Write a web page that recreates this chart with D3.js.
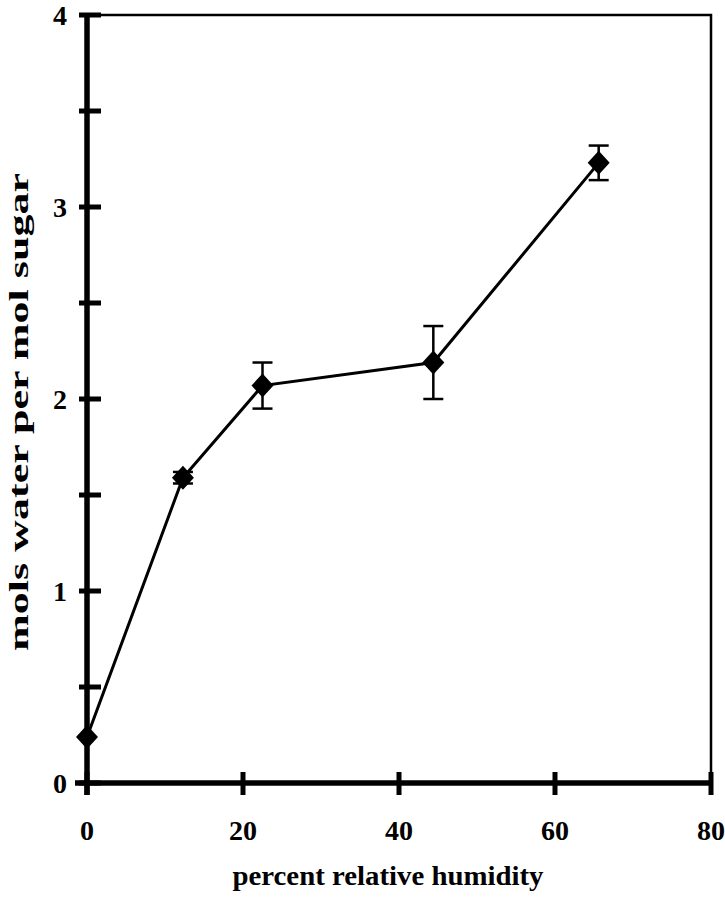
<!DOCTYPE html>
<meta charset="utf-8">
<style>
body { margin: 0; background: #fff; }
text { font-family: "Liberation Serif", "Times New Roman", Times, serif; font-weight: 700; fill: #000; }
.frame { fill: none; stroke: #000; stroke-width: 2.5px; }
.axis { stroke: #000; stroke-width: 5.5px; }
.tick { stroke: #000; stroke-width: 5px; }
.line { fill: none; stroke: #000; stroke-width: 3px; }
.err { stroke: #000; stroke-width: 2.5px; }
</style>
<svg width="725" height="900"></svg>
<script src="https://cdn.jsdelivr.net/npm/d3@7"></script>
<script>

// percent relative humidity vs mols water per mol sugar
var humidity = [0, 12.3, 22.5, 44.4, 65.6];
var water    = [0.24, 1.59, 2.07, 2.19, 3.23];
var errors   = [0, 0.03, 0.12, 0.19, 0.09];

var xTicks = [0, 20, 40, 60, 80];
var yTicks = [0, 1, 2, 3, 4];
var yMinor = [0.5, 1.5, 2.5, 3.5];

var svg = d3.select("svg");

var x = d3.scaleLinear().domain([0, 80]).range([87, 711]);
var y = d3.scaleLinear().domain([0, 4]).range([783, 15]);

// thin frame top / right
svg.append("path")
    .attr("class", "frame")
    .attr("d", "M" + x(0) + "," + y(4) + "H" + x(80) + "V" + y(0));

// thick axes
svg.append("line").attr("class", "axis")
    .attr("x1", x(0)).attr("x2", x(0)).attr("y1", y(4)).attr("y2", y(0) + 12);
svg.append("line").attr("class", "axis")
    .attr("x1", x(0) - 12).attr("x2", x(80)).attr("y1", y(0)).attr("y2", y(0));

// ticks crossing the axes
svg.selectAll(".ytick")
    .data(yTicks.concat(yMinor))
  .enter().append("line")
    .attr("class", "tick")
    .attr("x1", x(0) - 8).attr("x2", x(0) + 14)
    .attr("y1", d => y(d)).attr("y2", d => y(d));

svg.selectAll(".xtick")
    .data(xTicks)
  .enter().append("line")
    .attr("class", "tick")
    .attr("x1", d => x(d)).attr("x2", d => x(d))
    .attr("y1", y(0) - 11).attr("y2", y(0) + 12);

svg.selectAll(".ylab")
    .data(yTicks)
  .enter().append("text")
    .attr("x", 67)
    .attr("y", d => y(d))
    .attr("dy", "0.35em")
    .attr("text-anchor", "end")
    .style("font-size", "28px")
    .text(d => d);

svg.selectAll(".xlab")
    .data(xTicks)
  .enter().append("text")
    .attr("x", d => x(d))
    .attr("y", 840)
    .attr("text-anchor", "middle")
    .style("font-size", "28px")
    .text(d => d);

svg.append("text")
    .attr("x", 388)
    .attr("y", 885)
    .attr("text-anchor", "middle")
    .attr("textLength", 311)
    .attr("lengthAdjust", "spacingAndGlyphs")
    .style("font-size", "27px")
    .text("percent relative humidity");

svg.append("text")
    .attr("transform", "translate(28,412) rotate(-90)")
    .attr("text-anchor", "middle")
    .attr("textLength", 478)
    .attr("lengthAdjust", "spacingAndGlyphs")
    .style("font-size", "27px")
    .text("mols water per mol sugar");

var pts = humidity.map((h, i) => ({ x: h, y: water[i], e: errors[i] }));

svg.append("path")
    .datum(pts)
    .attr("class", "line")
    .attr("d", d3.line().x(d => x(d.x)).y(d => y(d.y)));

var eb = svg.selectAll(".eb")
    .data(pts.filter(d => d.e > 0))
  .enter().append("g");

eb.append("line").attr("class", "err")
    .attr("x1", d => x(d.x)).attr("x2", d => x(d.x))
    .attr("y1", d => y(d.y + d.e)).attr("y2", d => y(d.y - d.e));
eb.append("line").attr("class", "err")
    .attr("x1", d => x(d.x) - 10).attr("x2", d => x(d.x) + 10)
    .attr("y1", d => y(d.y + d.e)).attr("y2", d => y(d.y + d.e));
eb.append("line").attr("class", "err")
    .attr("x1", d => x(d.x) - 10).attr("x2", d => x(d.x) + 10)
    .attr("y1", d => y(d.y - d.e)).attr("y2", d => y(d.y - d.e));

svg.selectAll(".pt")
    .data(pts)
  .enter().append("path")
    .attr("d", "M0,-12L11,0L0,12L-11,0Z")
    .attr("transform", d => "translate(" + x(d.x) + "," + y(d.y) + ")")
    .attr("fill", "#000");

</script>
